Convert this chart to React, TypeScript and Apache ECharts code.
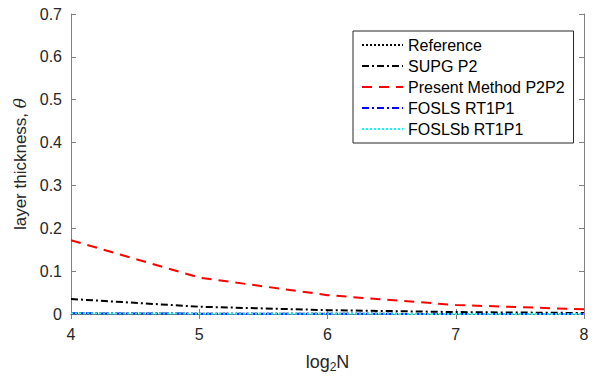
import React, { useEffect, useRef } from "react";
import * as echarts from "echarts";

const xValues = [4, 5, 6, 7, 8];
const referenceVals = [0.0016, 0.0008, 0.0004, 0.0002, 0.0001];
const supgVals = [0.035, 0.017, 0.009, 0.0045, 0.0023];
const presentVals = [0.172, 0.085, 0.044, 0.021, 0.011];
const foslsVals = [0.0016, 0.0008, 0.0004, 0.0002, 0.0001];
const foslsbVals = [0.0016, 0.0008, 0.0004, 0.0002, 0.0001];
const seriesNames = ["Reference", "SUPG P2", "Present Method P2P2", "FOSLS RT1P1", "FOSLSb RT1P1"];

const FONT = "'Liberation Sans', Arial, Helvetica, sans-serif";
const TXT = "#262626";
const AX = "#808080";

function pts(vals: number[]) {
  return xValues.map((x, i) => [x, vals[i]]);
}

export default function App() {
  const ref = useRef<HTMLDivElement>(null);
  useEffect(() => {
    if (!ref.current) return;
    const chart = echarts.init(ref.current, undefined, { renderer: "svg" });
    const axisCommon = {
      axisLine: { show: true, lineStyle: { color: AX, width: 1 } },
      axisTick: { show: true, inside: true, length: 5, lineStyle: { color: AX } },
      splitLine: { show: false },
    };
    chart.setOption({
      animation: false,
      textStyle: { fontFamily: FONT },
      grid: { left: 71, right: 17, top: 14, bottom: 66, containLabel: false },
      xAxis: [
        {
          type: "value", min: 4, max: 8, interval: 1, position: "bottom",
          ...axisCommon,
          axisLabel: { color: TXT, fontSize: 16, margin: 12, fontFamily: FONT },
          name: "{a|log}{b|2}{a|N}",
          nameLocation: "middle",
          nameGap: 36,
          nameTextStyle: {
            rich: {
              a: { fontSize: 18, color: TXT, fontFamily: FONT },
              b: { fontSize: 12, color: TXT, fontFamily: FONT, verticalAlign: "bottom", padding: [11, 0, 0, 0] },
            },
          },
        },
        {
          type: "value", min: 4, max: 8, interval: 1, position: "top",
          ...axisCommon,
          axisLabel: { show: false },
        },
      ],
      yAxis: [
        {
          type: "value", min: 0, max: 0.7, interval: 0.1, position: "left",
          ...axisCommon,
          axisLabel: { color: TXT, fontSize: 16, margin: 9, fontFamily: FONT },
          name: "{a|layer thickness, }{b|θ}",
          nameLocation: "middle",
          nameGap: 31,
          nameRotate: 90,
          nameTextStyle: {
            rich: {
              a: { fontSize: 17, color: TXT, fontFamily: FONT },
              b: { fontSize: 17, color: TXT, fontFamily: "'DejaVu Serif', serif", fontStyle: "italic" },
            },
          },
        },
        {
          type: "value", min: 0, max: 0.7, interval: 0.1, position: "right",
          ...axisCommon,
          axisLabel: { show: false },
        },
      ],
      legend: {
        orient: "vertical",
        left: 353,
        top: 31,
        itemWidth: 41,
        itemHeight: 14,
        itemGap: 5,
        padding: [6, 9, 6, 8],
        borderColor: TXT,
        borderWidth: 1,
        backgroundColor: "#fff",
        itemStyle: { opacity: 0 },
        textStyle: { fontSize: 16, color: "#000", fontFamily: FONT },
        data: seriesNames,
      },
      series: [
        {
          name: seriesNames[0], type: "line", data: pts(referenceVals), symbol: "none",
          lineStyle: { color: "#000", width: 2, type: [2, 2] }, itemStyle: { color: "#000" },
        },
        {
          name: seriesNames[1], type: "line", data: pts(supgVals), symbol: "none",
          lineStyle: { color: "#000", width: 2, type: [7, 3, 2, 3] }, itemStyle: { color: "#000" },
        },
        {
          name: seriesNames[2], type: "line", data: pts(presentVals), symbol: "none",
          lineStyle: { color: "#ff0000", width: 2, type: [10, 7] }, itemStyle: { color: "#ff0000" },
        },
        {
          name: seriesNames[3], type: "line", data: pts(foslsVals), symbol: "none",
          lineStyle: { color: "#0000ff", width: 2, type: [7, 3, 2, 3] }, itemStyle: { color: "#0000ff" },
        },
        {
          name: seriesNames[4], type: "line", data: pts(foslsbVals), symbol: "none",
          lineStyle: { color: "#00ffff", width: 2, type: [2, 2] }, itemStyle: { color: "#00ffff" },
        },
      ],
    });
    return () => chart.dispose();
  }, []);
  return <div ref={ref} style={{ width: 601, height: 380, position: "absolute", left: 0, top: 0 }} />;
}
